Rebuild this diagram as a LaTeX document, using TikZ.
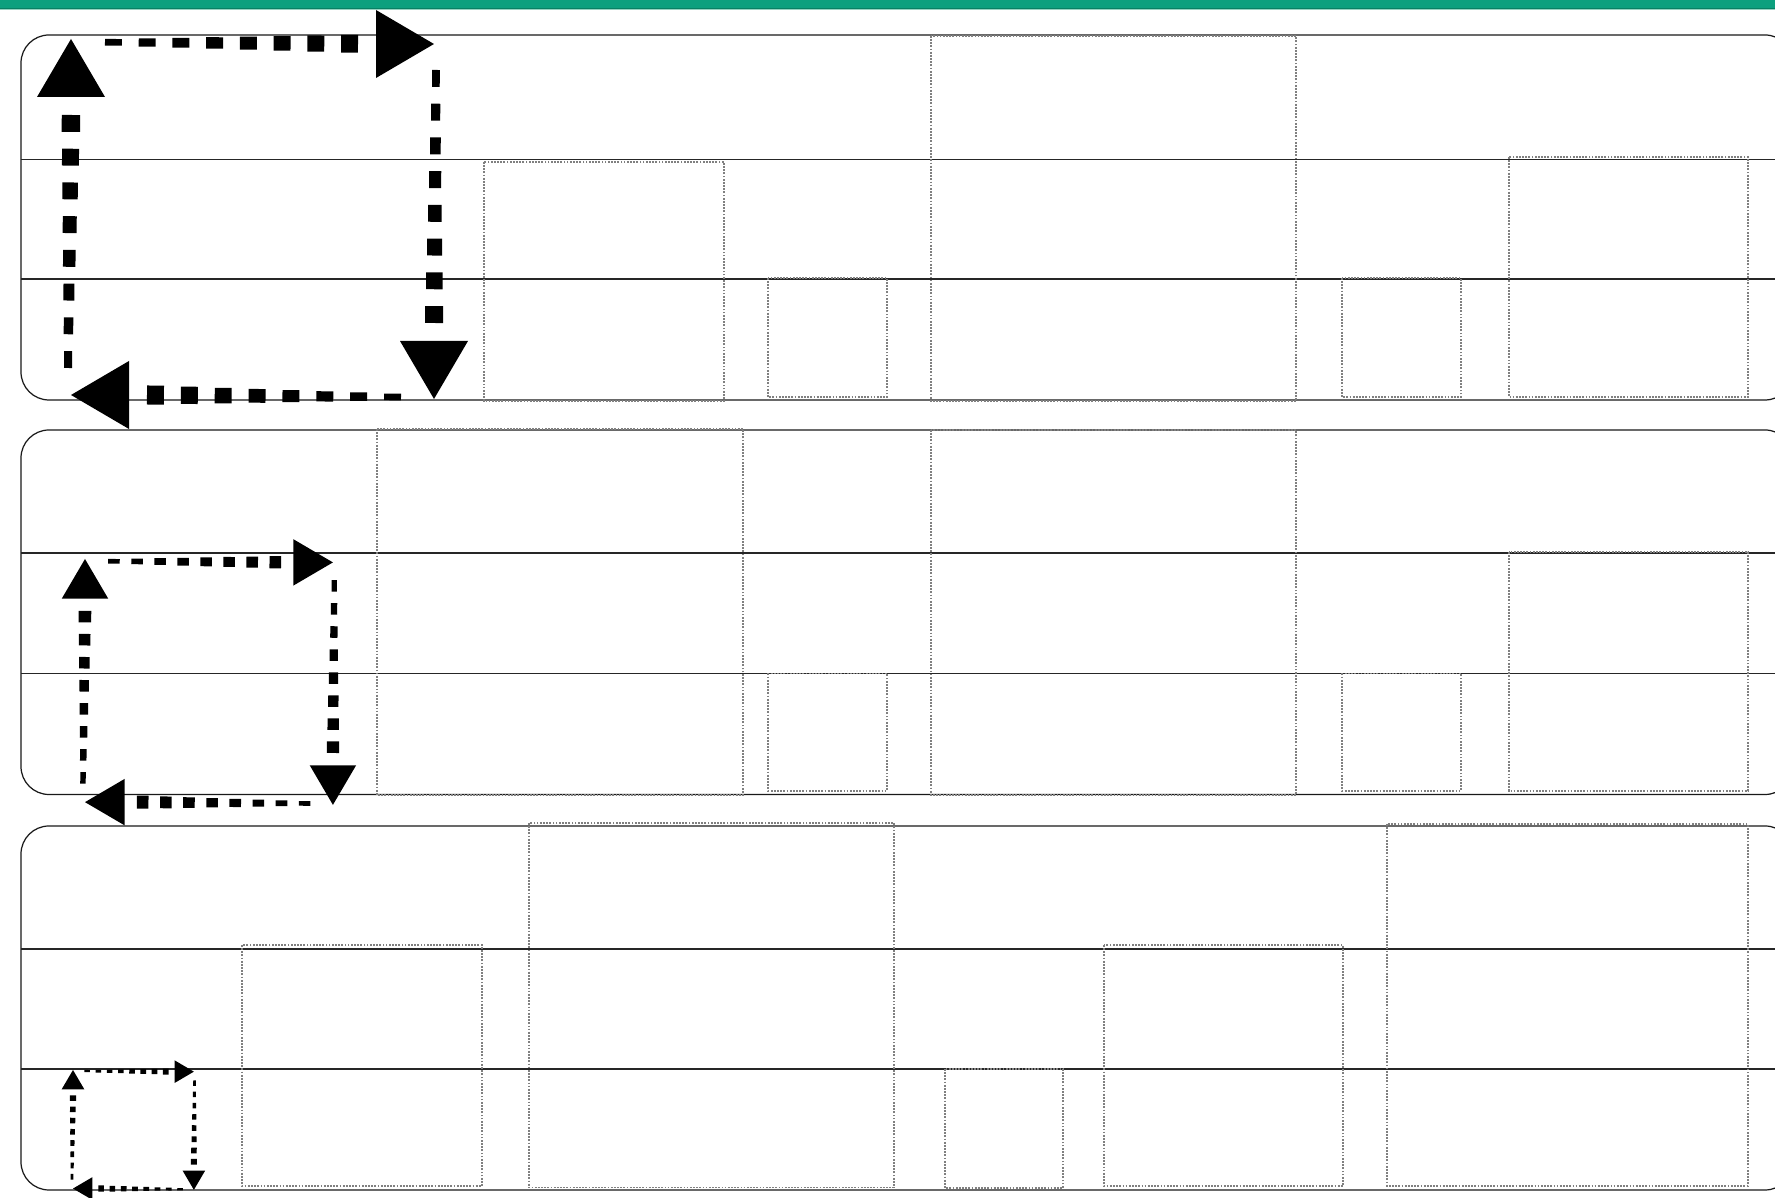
\documentclass[tikz,border=0pt]{standalone}
\usetikzlibrary{calc}
\definecolor{barteal}{RGB}{12,160,126}
\definecolor{bardark}{RGB}{8,128,100}
\definecolor{barlight}{RGB}{150,210,192}
\tikzset{
  panel/.style={draw=black!90, line width=0.35pt, rounded corners=0.28cm},
  divider/.style={draw=black!85, line width=0.4pt},
  slot/.style={draw=black!50, line width=0.3pt, dash pattern=on 0.5pt off 0.4pt},
  head/.style={fill=black},
}
% tapered dashed run: #1 start, #2 end, #3 start width px, #4 end width px, #5 scale
\newcommand\taperrun[5]{%
  \foreach \k in {0,...,7}{%
    \pgfmathsetmacro\ta{2*\k/15}%
    \pgfmathsetmacro\tb{(2*\k+1)/15}%
    \pgfmathsetmacro\lw{(#3+(#4-#3)*\k/7)*#5*0.28453}%
    \draw[line width=\lw pt] ($(#1)!\ta!(#2)$) -- ($(#1)!\tb!(#2)$);
  }}
% cycle of four arrows: #1 x, #2 y, #3 scale, #4 name prefix
\newcommand\cycleloop[4]{%
  \begin{scope}[shift={(#1,#2)},scale=#3]
    \coordinate (#4ls) at (-3,329); \coordinate (#4le) at (0,76);
    \coordinate (#4ts) at (34,3.3); \coordinate (#4te) at (287,4.8);
    \coordinate (#4rs) at (365,31); \coordinate (#4re) at (363,284);
    \coordinate (#4bs) at (330,358); \coordinate (#4be) at (76,356);
    \taperrun{#4ls}{#4le}{8}{18.4}{#3}
    \taperrun{#4ts}{#4te}{6.7}{17.7}{#3}
    \taperrun{#4rs}{#4re}{7.7}{18}{#3}
    \taperrun{#4bs}{#4be}{6.7}{19}{#3}
    \fill[head] (0,0) -- (34,58) -- (-34,58) -- cycle;
    \fill[head] (363,5) -- (305,39) -- (305,-29) -- cycle;
    \fill[head] (363,360) -- (329,302) -- (397,302) -- cycle;
    \fill[head] (0,356) -- (58,322) -- (58,390) -- cycle;
  \end{scope}}
\begin{document}
\begin{tikzpicture}[x=0.01cm,y=-0.01cm]
  \fill[white] (0,0) rectangle (1775,1198);
  \useasboundingbox (0,0) rectangle (1775,1198);
  \begin{scope}
  \clip (0,0) rectangle (1775,1198);
  % top bar
  \fill[barteal] (0,0) rectangle (1775,8.3);
  \fill[bardark] (0,7.8) rectangle (1775,9);
  \fill[barlight] (0,9) rectangle (1775,10);

  % panels
  \draw[panel] (21,35) rectangle (1793,400);
  \draw[panel] (21,430) rectangle (1793,794.5);
  \draw[panel] (21,826) rectangle (1793,1190);

  % dividers
  \foreach \yy in {159.5,279,553,673.5,949,1069}
    \draw[divider] (21,\yy) -- (1793,\yy);

  % slots panel 1
  \draw[slot] (484,162) rectangle (724,401);
  \draw[slot] (768,278) rectangle (887,397);
  \draw[slot] (931,36) rectangle (1296,401);
  \draw[slot] (1342,278) rectangle (1461,397);
  \draw[slot] (1509,157) rectangle (1748,397);
  % slots panel 2
  \draw[slot] (377,429) rectangle (743,795);
  \draw[slot] (768,673.5) rectangle (887,791);
  \draw[slot] (931,430) rectangle (1296,795);
  \draw[slot] (1342,673.5) rectangle (1461,791);
  \draw[slot] (1509,552) rectangle (1748,791);
  % slots panel 3
  \draw[slot] (242,945) rectangle (482,1186);
  \draw[slot] (529,823) rectangle (894,1187.5);
  \draw[slot] (945,1069) rectangle (1063,1188);
  \draw[slot] (1104,945) rectangle (1343,1186);
  \draw[slot] (1387,824) rectangle (1748,1186);

  % arrow cycles
  \cycleloop{71}{39}{1}{a}
  \cycleloop{85}{559}{0.683}{b}
  \cycleloop{73}{1070}{0.333}{c}
  \end{scope}
\end{tikzpicture}
\end{document}
